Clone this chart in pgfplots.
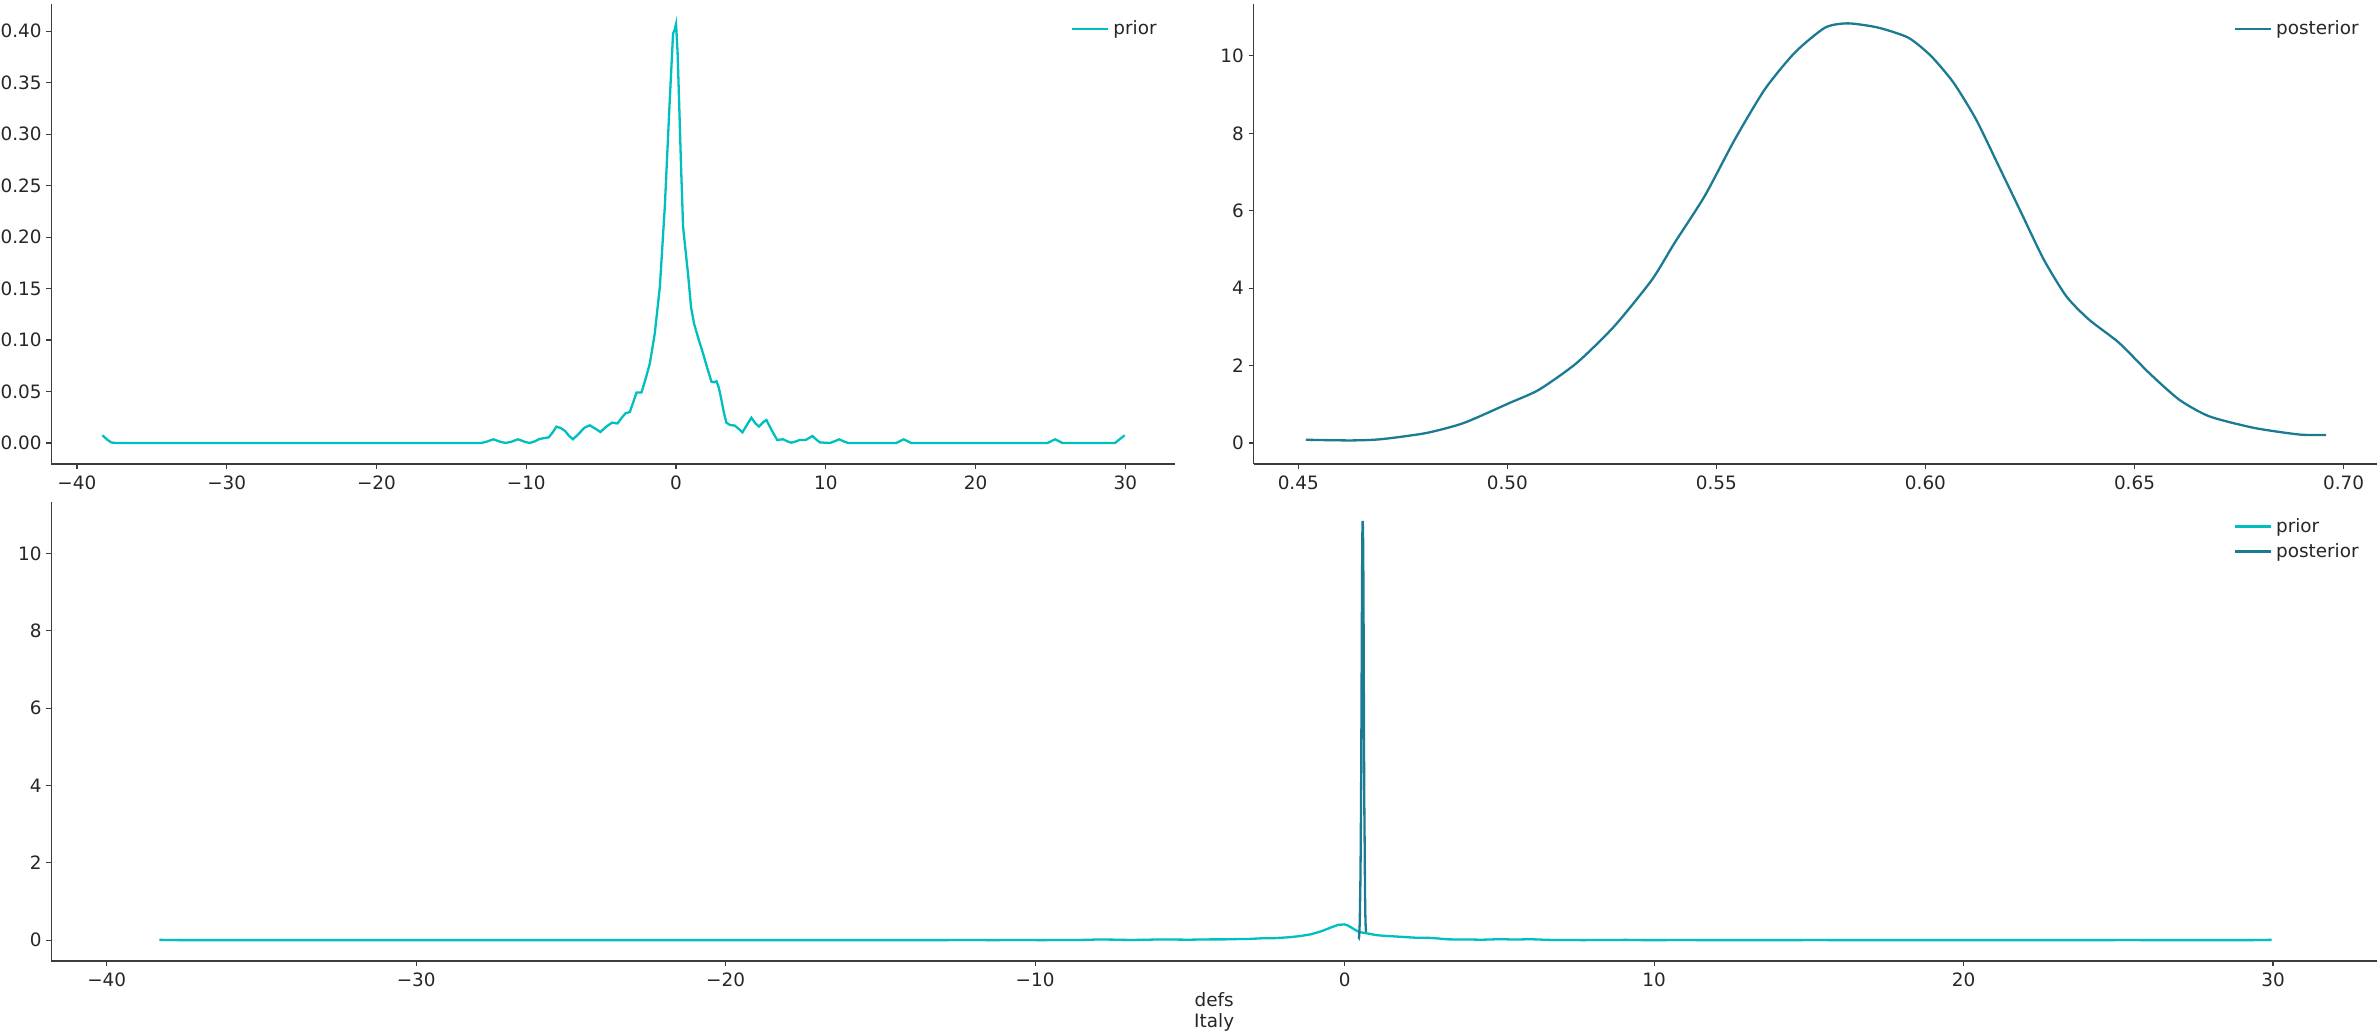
\documentclass[border=0pt]{standalone}
\usepackage{fontspec}
\setmainfont{DejaVu Sans}
\usepackage{pgfplots}
\usepackage{pgfplotstable}
\pgfplotsset{compat=1.18}
\definecolor{priorc}{HTML}{00BFBF}
\definecolor{postc}{HTML}{1B7B93}
\definecolor{txt}{HTML}{262626}
\definecolor{spine}{HTML}{3C3C3C}

\pgfplotstableread{
x y
-38.3 0.0075
-38.0 0.0035
-37.7 0.0005
-37.4 0.0
-13.0 0.0
-12.6 0.0015
-12.2 0.0036
-11.8 0.0015
-11.4 0.0
-11.0 0.0012
-10.55 0.0036
-10.1 0.0012
-9.77 0.0
-9.4 0.0018
-9.1 0.0040
-8.5 0.0055
-8.25 0.0100
-7.99 0.0159
-7.7 0.0145
-7.43 0.0120
-7.15 0.0070
-6.88 0.0036
-6.5 0.0090
-6.1 0.0150
-5.76 0.0172
-5.4 0.0140
-5.05 0.0107
-4.65 0.0160
-4.27 0.0198
-3.91 0.0190
-3.6 0.0250
-3.38 0.0288
-3.09 0.0301
-2.85 0.0400
-2.64 0.0490
-2.31 0.0490
-2.0 0.0640
-1.75 0.0774
-1.42 0.1066
-1.08 0.1520
-0.75 0.2300
-0.42 0.3335
-0.2 0.3980
-0.09 0.4015
0.0 0.4070
0.1 0.3800
0.2 0.3335
0.33 0.2700
0.47 0.2096
0.8 0.1640
1.0 0.1320
1.2 0.1160
1.5 0.1010
1.8 0.0870
2.1 0.0720
2.36 0.0596
2.55 0.0590
2.7 0.0600
2.85 0.0540
3.03 0.0418
3.2 0.0290
3.36 0.0198
3.6 0.0175
3.92 0.0169
4.2 0.0135
4.43 0.0104
4.75 0.0180
5.03 0.0246
5.3 0.0190
5.54 0.0160
5.8 0.0200
6.03 0.0223
6.4 0.0120
6.75 0.0030
7.15 0.0036
7.45 0.0015
7.7 0.0003
8.0 0.0015
8.26 0.0030
8.66 0.0030
9.1 0.0068
9.35 0.0035
9.6 0.0006
10.27 0.0
10.6 0.0018
10.89 0.0036
11.2 0.0015
11.5 0.0
14.7 0.0
15.2 0.0036
15.7 0.0
24.8 0.0
25.3 0.0036
25.8 0.0
29.3 0.0
29.6 0.0035
29.95 0.0075
}\priortab

\pgfplotstableread{
x y
0.4518 0.086
0.4626 0.069
0.4698 0.100
0.4806 0.260
0.4896 0.520
0.5004 1.030
0.5076 1.380
0.5166 2.070
0.5256 3.020
0.5346 4.220
0.5400 5.170
0.5472 6.380
0.5544 7.840
0.5616 9.140
0.5688 10.090
0.5760 10.730
0.5815 10.840
0.5887 10.730
0.5959 10.470
0.6013 10.000
0.6067 9.310
0.6121 8.360
0.6175 7.160
0.6229 5.950
0.6283 4.740
0.6337 3.790
0.6391 3.190
0.6463 2.590
0.6535 1.810
0.6607 1.120
0.6679 0.690
0.6787 0.390
0.6895 0.220
0.6958 0.210
}\posttab

\pgfplotsset{
  myaxis/.style={
    scale only axis,
    axis lines=left,
    axis line style={-, spine, line width=0.6pt},
    tick style={spine, line width=0.6pt},
    tick align=outside,
    major tick length=2.5pt,
    minor tick num=0,
    tick label style={font=\fontsize{9.2}{11}\selectfont, text=txt},
    yticklabel style={xshift=1.2pt},
    legend style={draw=none, fill=none, at={(1,1)}, anchor=north east,
      font=\fontsize{9.2}{11}\selectfont, text=txt, row sep=0pt,
      xshift=-4pt, yshift=-4pt},
    legend cell align=left,
    legend image code/.code={\draw[##1] (0pt,0pt) -- (18pt,0pt);},
  },
  priorstyle/.style={priorc, line width=1.15pt},
  poststyle/.style={postc, line width=1.15pt},
}

\begin{document}
\begin{tikzpicture}
\useasboundingbox (0,0) rectangle (1190pt,517.5pt);

% top left: prior
\begin{axis}[myaxis,
  at={(25.65pt,285.5pt)}, anchor=south west,
  width=561.85pt, height=230pt,
  xmin=-41.71, xmax=33.31, ymin=-0.0204, ymax=0.4265,
  xtick={-40,-30,-20,-10,0,10,20,30},
  xticklabels={−40,−30,−20,−10,0,10,20,30},
  ytick={0,0.05,0.1,0.15,0.2,0.25,0.3,0.35,0.4},
  yticklabels={0.00,0.05,0.10,0.15,0.20,0.25,0.30,0.35,0.40},
]
\addplot[priorstyle] table[x=x,y=y] {\priortab};
\addlegendentry{prior}
\end{axis}

% top right: posterior
\begin{axis}[myaxis,
  at={(626.75pt,285.5pt)}, anchor=south west,
  width=561.75pt, height=230pt,
  xmin=0.4393, xmax=0.708, ymin=-0.54, ymax=11.34,
  xtick={0.45,0.5,0.55,0.6,0.65,0.7},
  xticklabels={0.45,0.50,0.55,0.60,0.65,0.70},
  ytick={0,2,4,6,8,10},
  yticklabels={0,2,4,6,8,10},
]
\addplot[poststyle, smooth, tension=0.4] table[x=x,y=y] {\posttab};
\addlegendentry{posterior}
\end{axis}

% bottom: both
\begin{axis}[myaxis,
  at={(25.65pt,37pt)}, anchor=south west,
  width=1162.85pt, height=229.65pt,
  xmin=-41.79, xmax=33.36, ymin=-0.54, ymax=11.34,
  xtick={-40,-30,-20,-10,0,10,20,30},
  xticklabels={−40,−30,−20,−10,0,10,20,30},
  ytick={0,2,4,6,8,10},
  yticklabels={0,2,4,6,8,10},
  xlabel={defs\\Italy},
  xlabel style={align=center, font=\fontsize{9.2}{10.6}\selectfont, text=txt, yshift=4pt},
]
\addplot[priorstyle] table[x=x,y=y] {\priortab};
\addlegendentry{prior}
\addplot[poststyle] table[x=x,y=y] {\posttab};
\addlegendentry{posterior}
\end{axis}
\end{tikzpicture}
\end{document}
